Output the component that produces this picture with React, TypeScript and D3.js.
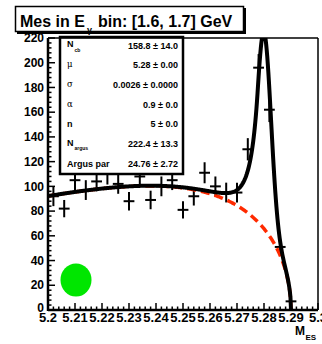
import React from "react";
import * as d3 from "d3";

// Binned M_ES data in the E_gamma bin [1.6, 1.7] GeV (bin width 0.004 GeV)
const binCenters = [
  5.202, 5.206, 5.21, 5.214, 5.218, 5.222, 5.226, 5.23, 5.234, 5.238, 5.242, 5.246, 5.25,
  5.254, 5.258, 5.262, 5.266, 5.27, 5.274, 5.278, 5.282, 5.286, 5.29, 5.294, 5.298,
];
const counts = [
  92, 82, 105, 97, 104, 110, 102, 88, 108, 89, 100, 105, 81, 92, 111, 100, 95, 95, 130, 196,
  162, 51, 7, 0, 0,
];
const countErrors = [
  8, 7, 8, 8, 8, 8.5, 8, 7.5, 8.5, 7.5, 8, 8, 7, 7.5, 8.5, 8, 8, 8, 9, 11, 10, 6, 3, 0, 0,
];
const binWidth = 0.004;

// Fit result: Crystal Ball signal + ARGUS background
const paramLabels = ["N_cb", "μ", "σ", "α", "n", "N_argus", "Argus par"];
const paramValues = ["158.8", "5.28", "0.0026", "0.9", "5", "222.4", "24.76"];
const paramErrors = ["14.0", "0.00", "0.0000", "0.0", "0.0", "13.3", "2.72"];
const nCb = 158.8;
const mu = 5.28;
const sigma = 0.0026;
const alpha = 0.9;
const nTail = 5;
const nArgus = 222.4;
const argusPar = 24.76;
const argusEndpoint = 5.29;

const xTickLabels = ["5.2", "5.21", "5.22", "5.23", "5.24", "5.25", "5.26", "5.27", "5.28", "5.29", "5.3"];
const yTickLabels = [0, 20, 40, 60, 80, 100, 120, 140, 160, 180, 200, 220];

const W = 322;
const H = 344;
const left = 48;
const right = 318;
const top = 38;
const bottom = 310;

const FONT = "'Liberation Sans', Arial, Helvetica, sans-serif";

function crystalBall(m: number): number {
  const t = (m - mu) / sigma;
  if (t > -alpha) return Math.exp(-0.5 * t * t);
  const a = Math.pow(nTail / alpha, nTail) * Math.exp(-0.5 * alpha * alpha);
  const b = nTail / alpha - alpha;
  return a * Math.pow(b - t, -nTail);
}

function argus(m: number): number {
  const r = m / argusEndpoint;
  const u = 1 - r * r;
  if (u <= 0) return 0;
  return m * Math.sqrt(u) * Math.exp(-argusPar * u);
}

export default function App() {
  const x = d3.scaleLinear().domain([5.2, 5.3]).range([left, right]);
  const y = d3.scaleLinear().domain([0, 220]).range([bottom, top]);

  const grid = d3.range(0, 451).map((i) => 5.2 + (i * (argusEndpoint - 5.2)) / 450);
  const bgLine = d3
    .line<number>()
    .x((m) => x(m))
    .y((m) => y(nArgus * argus(m)));
  const totalLine = d3
    .line<number>()
    .x((m) => x(m))
    .y((m) => y(nCb * crystalBall(m) + nArgus * argus(m)));

  const yMinor = d3.range(0, 221, 4);
  const xMinor = d3.range(0, 51).map((i) => 5.2 + i * 0.002);
  const xMajor = xTickLabels.map((s) => +s);

  const rowBase = [48.5, 68.2, 87.9, 107.6, 127.3, 147, 166.7];

  const renderLabel = (lab: string, yy: number) => {
    if (lab.startsWith("N_")) {
      const sub = lab.slice(2);
      return (
        <text x={67} y={yy - 1.5} fontFamily={FONT} fontSize={9} fontWeight="bold" fill="#000">
          N
          <tspan dx={1} dy={4.5} fontSize={5}>
            {sub}
          </tspan>
        </text>
      );
    }
    const greek = lab.length === 1 && lab !== "n";
    return (
      <text
        x={67}
        y={yy - (greek ? 1 : 0)}
        fontFamily={greek ? "'DejaVu Serif', serif" : FONT}
        fontSize={greek ? 8.5 : 9}
        fontWeight={greek ? "normal" : "bold"}
        fill="#000"
      >
        {lab}
      </text>
    );
  };

  return (
    <svg
      width={W}
      height={H}
      viewBox={`0 0 ${W} ${H}`}
      style={{ position: "absolute", left: 0, top: 0, background: "#fff" }}
    >
      <defs>
        <clipPath id="frameClip">
          <rect x={left} y={top} width={right - left} height={bottom - top} />
        </clipPath>
      </defs>
      <rect x={0} y={0} width={W} height={H} fill="#fff" />

      {/* marker */}
      <ellipse cx={76} cy={280} rx={15.5} ry={16.5} fill="#00e600" />

      {/* data points with error bars */}
      <g stroke="#000" strokeWidth={2} clipPath="url(#frameClip)">
        {binCenters.map((c, i) => (
          <g key={i}>
            <line x1={x(c - binWidth / 2)} x2={x(c + binWidth / 2)} y1={y(counts[i])} y2={y(counts[i])} />
            {countErrors[i] > 0 && (
              <line
                x1={x(c)}
                x2={x(c)}
                y1={y(counts[i] - countErrors[i])}
                y2={y(counts[i] + countErrors[i])}
              />
            )}
          </g>
        ))}
      </g>

      {/* fit curves */}
      <g clipPath="url(#frameClip)" fill="none">
        <path d={bgLine(grid) || ""} stroke="#ff2a00" strokeWidth={3.5} strokeDasharray="9,5" />
        <path d={totalLine(grid) || ""} stroke="#000" strokeWidth={4} strokeLinejoin="round" />
      </g>

      {/* fit parameter box */}
      <rect x={60} y={37} width={123} height={137} fill="#fff" stroke="#000" strokeWidth={2.5} />
      {paramLabels.map((lab, i) => (
        <g key={lab}>
          {renderLabel(lab, rowBase[i])}
          <text
            x={178}
            y={rowBase[i]}
            textAnchor="end"
            fontFamily={FONT}
            fontSize={9}
            fontWeight="bold"
            fill="#000"
          >
            {`${paramValues[i]} ± ${paramErrors[i]}`}
          </text>
        </g>
      ))}

      {/* frame */}
      <line x1={left} x2={right} y1={top} y2={top} stroke="#000" strokeWidth={1.5} />
      <line x1={right} x2={right} y1={top} y2={bottom} stroke="#000" strokeWidth={1.5} />

      {/* y axis */}
      <line x1={left} x2={left} y1={top} y2={bottom + 1} stroke="#000" strokeWidth={2.5} />
      {yMinor.map((v) => (
        <line
          key={`ym${v}`}
          x1={left}
          x2={left + (v % 20 === 0 ? 7 : 3.5)}
          y1={y(v)}
          y2={y(v)}
          stroke="#000"
          strokeWidth={1.5}
        />
      ))}
      {yTickLabels.map((v) => (
        <text
          key={`yl${v}`}
          x={44}
          y={v === 0 ? y(v) + 1.5 : y(v) + 4.2}
          textAnchor="end"
          fontFamily={FONT}
          fontSize={12}
          fontWeight="bold"
          fill="#000"
        >
          {v}
        </text>
      ))}

      {/* x axis */}
      <line x1={left} x2={right} y1={bottom} y2={bottom} stroke="#000" strokeWidth={2.5} />
      {xMinor.map((v, i) => (
        <line
          key={`xm${i}`}
          x1={x(v)}
          x2={x(v)}
          y1={bottom}
          y2={bottom - (i % 5 === 0 ? 7 : 3.5)}
          stroke="#000"
          strokeWidth={1.5}
        />
      ))}
      {xMajor.map((v, i) => (
        <text
          key={`xl${i}`}
          x={x(v)}
          y={322}
          textAnchor="middle"
          fontFamily={FONT}
          fontSize={13}
          fontWeight="bold"
          fill="#000"
        >
          {xTickLabels[i]}
        </text>
      ))}
      <text x={295} y={335} fontFamily={FONT} fontSize={12} fontWeight="bold" fill="#000">
        M
        <tspan dx={0.5} dy={4.5} fontSize={8}>
          ES
        </tspan>
      </text>

      {/* title */}
      <rect x={17} y={8} width={229} height={26} fill="#000" />
      <rect x={15.5} y={6.5} width={228} height={25} fill="#fff" stroke="#000" strokeWidth={1.5} />
      <text x={20} y={27} fontFamily={FONT} fontSize={16} fontWeight="bold" fill="#000">
        Mes in E
        <tspan x={87} dy={6} fontSize={9}>
          γ
        </tspan>
        <tspan x={98} dy={-6}>
          bin: [1.6, 1.7] GeV
        </tspan>
      </text>
    </svg>
  );
}
